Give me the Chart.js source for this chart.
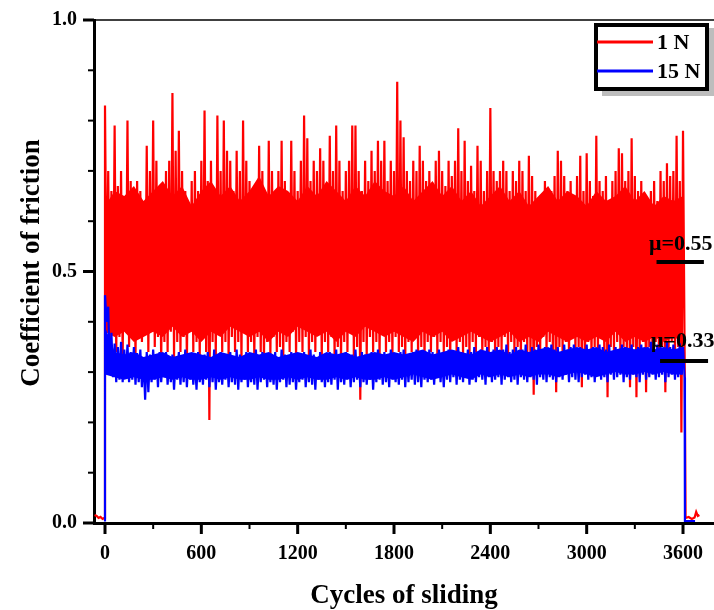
<!DOCTYPE html>
<html>
<head>
<meta charset="utf-8">
<script src="https://cdn.jsdelivr.net/npm/chart.js@4/dist/chart.umd.min.js"></script>
<style>
  html, body { margin: 0; padding: 0; background: #fff; }
  #wrap { width: 714px; height: 610px; }
</style>
</head>
<body>
<div id="wrap"><canvas id="cofChart" width="714" height="610"></canvas></div>
<script>
// sampled every 20 cycles from 0 to 3600: peak / trough of each oscillation
const cycleStep = 20;

const redHigh = [
  0.83,0.70,0.66,0.79,0.67,0.70,0.64,0.80,0.68,0.62,
  0.68,0.66,0.62,0.75,0.70,0.80,0.72,0.66,0.64,0.70,
  0.72,0.855,0.74,0.78,0.70,0.66,0.62,0.68,0.70,0.66,
  0.72,0.82,0.68,0.72,0.66,0.81,0.70,0.80,0.74,0.72,
  0.66,0.74,0.70,0.80,0.72,0.68,0.62,0.66,0.75,0.70,
  0.64,0.76,0.70,0.66,0.70,0.76,0.68,0.64,0.76,0.70,
  0.66,0.72,0.81,0.765,0.68,0.72,0.70,0.745,0.72,0.66,
  0.77,0.70,0.79,0.72,0.66,0.70,0.72,0.79,0.79,0.70,
  0.66,0.72,0.68,0.74,0.70,0.76,0.72,0.76,0.68,0.72,
  0.70,0.877,0.80,0.767,0.70,0.68,0.72,0.70,0.75,0.72,
  0.68,0.70,0.66,0.72,0.74,0.70,0.67,0.72,0.69,0.72,
  0.785,0.70,0.76,0.68,0.71,0.66,0.75,0.72,0.66,0.70,
  0.825,0.70,0.68,0.70,0.72,0.70,0.66,0.70,0.68,0.72,
  0.70,0.66,0.73,0.69,0.66,0.62,0.64,0.68,0.64,0.66,
  0.69,0.74,0.72,0.69,0.66,0.68,0.64,0.69,0.73,0.66,
  0.735,0.68,0.65,0.77,0.68,0.66,0.69,0.64,0.68,0.70,
  0.745,0.735,0.68,0.70,0.765,0.69,0.66,0.68,0.64,0.60,
  0.66,0.68,0.64,0.70,0.68,0.715,0.69,0.70,0.77,0.68,
  0.78
];
const redLow = [
  0.42,0.36,0.38,0.34,0.37,0.33,0.39,0.35,0.38,0.33,
  0.40,0.36,0.38,0.34,0.39,0.35,0.37,0.32,0.36,0.34,
  0.38,0.33,0.36,0.34,0.37,0.32,0.38,0.34,0.36,0.33,
  0.37,0.34,0.205,0.36,0.33,0.38,0.34,0.36,0.32,0.37,
  0.34,0.36,0.32,0.38,0.34,0.36,0.33,0.37,0.34,0.32,
  0.36,0.33,0.37,0.34,0.35,0.32,0.36,0.34,0.38,0.33,
  0.36,0.34,0.37,0.33,0.36,0.34,0.38,0.32,0.36,0.34,
  0.37,0.33,0.35,0.32,0.36,0.34,0.38,0.33,0.35,0.245,
  0.36,0.33,0.37,0.34,0.36,0.32,0.38,0.34,0.36,0.33,
  0.37,0.34,0.35,0.32,0.36,0.34,0.37,0.33,0.35,0.32,
  0.36,0.34,0.37,0.33,0.36,0.34,0.35,0.32,0.37,0.34,
  0.36,0.33,0.35,0.32,0.36,0.34,0.37,0.33,0.35,0.34,
  0.36,0.32,0.35,0.34,0.37,0.33,0.36,0.34,0.35,0.32,
  0.36,0.34,0.33,0.255,0.35,0.33,0.37,0.34,0.36,0.32,
  0.26,0.35,0.34,0.36,0.33,0.37,0.34,0.35,0.27,0.34,
  0.36,0.33,0.35,0.34,0.37,0.33,0.25,0.35,0.34,0.36,
  0.33,0.35,0.34,0.27,0.35,0.25,0.34,0.36,0.26,0.35,
  0.33,0.36,0.34,0.35,0.26,0.34,0.36,0.33,0.35,0.18,
  0.34
];
const blueHigh = [
  0.453,0.43,0.378,0.357,0.35,0.36,0.345,0.355,0.34,0.35,
  0.338,0.345,0.33,0.34,0.335,0.345,0.33,0.34,0.325,0.34,
  0.33,0.335,0.325,0.34,0.33,0.345,0.33,0.335,0.325,0.34,
  0.33,0.335,0.34,0.33,0.345,0.33,0.34,0.325,0.335,0.34,
  0.33,0.345,0.335,0.33,0.34,0.325,0.335,0.345,0.33,0.34,
  0.33,0.335,0.325,0.34,0.33,0.345,0.335,0.33,0.34,0.33,
  0.325,0.335,0.34,0.33,0.345,0.335,0.33,0.34,0.325,0.335,
  0.34,0.33,0.345,0.335,0.33,0.34,0.33,0.335,0.345,0.33,
  0.34,0.335,0.325,0.34,0.33,0.345,0.335,0.34,0.33,0.345,
  0.335,0.33,0.34,0.345,0.335,0.33,0.34,0.345,0.335,0.34,
  0.33,0.345,0.34,0.335,0.345,0.33,0.34,0.345,0.335,0.34,
  0.35,0.34,0.335,0.345,0.34,0.35,0.335,0.345,0.34,0.35,
  0.34,0.345,0.35,0.34,0.345,0.355,0.34,0.345,0.35,0.34,
  0.345,0.355,0.34,0.35,0.345,0.355,0.34,0.35,0.345,0.355,
  0.345,0.35,0.34,0.355,0.345,0.35,0.355,0.34,0.35,0.345,
  0.355,0.345,0.35,0.34,0.355,0.35,0.345,0.355,0.34,0.35,
  0.345,0.355,0.35,0.34,0.355,0.345,0.35,0.355,0.345,0.35,
  0.36,0.345,0.355,0.35,0.345,0.36,0.35,0.355,0.345,0.357,
  0.35
];
const blueLow = [
  0.40,0.30,0.29,0.28,0.285,0.28,0.29,0.28,0.285,0.275,
  0.28,0.27,0.245,0.26,0.28,0.285,0.27,0.28,0.29,0.275,
  0.28,0.265,0.285,0.275,0.28,0.27,0.285,0.275,0.265,0.28,
  0.275,0.285,0.27,0.28,0.265,0.28,0.275,0.285,0.27,0.28,
  0.275,0.265,0.28,0.285,0.27,0.28,0.275,0.265,0.28,0.285,
  0.27,0.28,0.275,0.265,0.28,0.285,0.27,0.275,0.28,0.265,
  0.28,0.285,0.27,0.28,0.275,0.265,0.285,0.28,0.27,0.28,
  0.275,0.285,0.265,0.28,0.275,0.285,0.27,0.28,0.285,0.27,
  0.28,0.275,0.285,0.265,0.28,0.285,0.275,0.28,0.27,0.285,
  0.28,0.275,0.285,0.27,0.28,0.285,0.275,0.28,0.27,0.285,
  0.28,0.285,0.275,0.29,0.28,0.27,0.285,0.28,0.29,0.275,
  0.285,0.28,0.29,0.275,0.285,0.28,0.29,0.285,0.275,0.29,
  0.28,0.285,0.29,0.275,0.285,0.29,0.28,0.285,0.275,0.29,
  0.285,0.28,0.29,0.285,0.275,0.29,0.285,0.28,0.29,0.285,
  0.28,0.29,0.285,0.295,0.28,0.29,0.285,0.28,0.29,0.295,
  0.285,0.29,0.28,0.295,0.285,0.29,0.28,0.295,0.285,0.29,
  0.295,0.28,0.29,0.285,0.295,0.29,0.28,0.295,0.285,0.29,
  0.295,0.285,0.29,0.295,0.28,0.29,0.295,0.285,0.29,0.295,
  0.29
];

// solid core of each trace (where the oscillation covers everything), every 60 cycles
const bandStep = 60;
const redCoreTop = [
  0.63,0.66,0.65,0.67,0.64,0.66,0.68,0.65,0.67,0.63,
  0.66,0.68,0.65,0.67,0.64,0.66,0.69,0.65,0.67,0.66,
  0.64,0.67,0.65,0.68,0.66,0.64,0.67,0.65,0.68,0.66,
  0.65,0.67,0.64,0.66,0.68,0.65,0.67,0.64,0.66,0.63,
  0.65,0.67,0.64,0.66,0.63,0.65,0.67,0.64,0.66,0.65,
  0.63,0.66,0.64,0.65,0.67,0.64,0.66,0.63,0.65,0.64,
  0.65
];
const redCoreBottom = [
  0.38,0.37,0.38,0.36,0.37,0.38,0.37,0.39,0.37,0.38,
  0.36,0.38,0.37,0.39,0.38,0.37,0.38,0.36,0.38,0.37,
  0.39,0.38,0.37,0.38,0.36,0.38,0.37,0.39,0.38,0.37,
  0.38,0.37,0.36,0.38,0.37,0.38,0.36,0.37,0.38,0.37,
  0.36,0.37,0.38,0.36,0.37,0.36,0.38,0.37,0.36,0.37,
  0.36,0.37,0.36,0.38,0.36,0.37,0.36,0.37,0.36,0.37,
  0.36
];
const blueCoreTop = [
  0.39,0.34,0.335,0.34,0.33,0.335,0.34,0.33,0.335,0.34,
  0.335,0.33,0.34,0.335,0.33,0.34,0.335,0.34,0.33,0.335,
  0.34,0.335,0.33,0.34,0.335,0.34,0.33,0.335,0.34,0.335,
  0.34,0.335,0.34,0.345,0.335,0.34,0.345,0.34,0.335,0.345,
  0.34,0.345,0.335,0.345,0.34,0.345,0.35,0.34,0.345,0.35,
  0.345,0.35,0.34,0.345,0.35,0.345,0.35,0.345,0.35,0.345,
  0.35
];
const blueCoreBottom = [
  0.295,0.29,0.285,0.29,0.285,0.285,0.29,0.285,0.29,0.285,
  0.285,0.29,0.285,0.29,0.285,0.285,0.29,0.285,0.285,0.29,
  0.285,0.29,0.285,0.285,0.29,0.285,0.29,0.285,0.285,0.29,
  0.285,0.29,0.295,0.29,0.285,0.29,0.295,0.29,0.285,0.295,
  0.29,0.295,0.29,0.295,0.29,0.295,0.295,0.29,0.295,0.30,
  0.295,0.29,0.295,0.30,0.295,0.295,0.30,0.295,0.30,0.295,
  0.295
];

// before the test starts and after it ends
const redLeadCycles = [-65, -52, -40, -28, -15, -4];
const redLeadValues = [0.016, 0.014, 0.010, 0.012, 0.008, 0.010];
const redTailCycles = [3616, 3635, 3655, 3672, 3682, 3692, 3702];
const redTailValues = [0.010, 0.012, 0.008, 0.011, 0.022, 0.014, 0.016];
const blueLeadCycles = [0];
const blueLeadValues = [0.003];
const blueTailCycles = [3612, 3675];
const blueTailValues = [0.004, 0.004];

const seriesNames = ['1 N', '15 N'];
const seriesColors = ['#ff0000', '#0000ff'];
const meanLabels = ['\u03bc=0.55', '\u03bc=0.33'];

const xTickValues = [0,300,600,900,1200,1500,1800,2100,2400,2700,3000,3300,3600];
const xTickLabels = ['0','','600','','1200','','1800','','2400','','3000','','3600'];
const yTickValues = [0,0.1,0.2,0.3,0.4,0.5,0.6,0.7,0.8,0.9,1.0];
const yTickLabels = ['0.0','','','','','0.5','','','','','1.0'];

const serif = '"Liberation Serif", "Times New Roman", serif';

function buildSeries(leadX, leadY, high, low, tailX, tailY) {
    let pts = [];
    leadX.forEach((x, i) => pts.push({x: x, y: leadY[i]}));
    high.forEach((h, i) => {
        pts.push({x: i * cycleStep, y: h});
        pts.push({x: i * cycleStep + cycleStep / 2, y: low[i]});
    });
    tailX.forEach((x, i) => pts.push({x: x, y: tailY[i]}));
    return pts;
}

function buildCore(values) {
    return values.map((v, i) => ({x: i * bandStep, y: v}));
}

// mean value marks, placed in data units
const meanMarks = [
    {text: meanLabels[0], tx: 3388, ty: 0.543, x0: 3435, x1: 3730, y: 0.519},
    {text: meanLabels[1], tx: 3400, ty: 0.350, x0: 3457, x1: 3756, y: 0.322}
];

const originFrame = {
    id: 'originFrame',
    afterDraw(chart) {
        const ctx = chart.ctx;
        const area = chart.chartArea;
        const xs = chart.scales.x;
        const ys = chart.scales.y;
        ctx.save();
        ctx.strokeStyle = '#000';

        // top frame line
        ctx.lineWidth = 1.5;
        ctx.beginPath();
        ctx.moveTo(area.left, area.top);
        ctx.lineTo(area.right, area.top);
        ctx.stroke();

        // tick marks: long for labelled ticks, short for the others
        yTickValues.forEach((v, i) => {
            let major = yTickLabels[i] !== '';
            let py = ys.getPixelForValue(v);
            ctx.lineWidth = major ? 3 : 2;
            ctx.beginPath();
            ctx.moveTo(area.left - (major ? 11 : 6), py);
            ctx.lineTo(area.left, py);
            ctx.stroke();
        });
        xTickValues.forEach((v, i) => {
            let major = xTickLabels[i] !== '';
            let px = xs.getPixelForValue(v);
            ctx.lineWidth = major ? 3 : 2;
            ctx.beginPath();
            ctx.moveTo(px, area.bottom);
            ctx.lineTo(px, area.bottom + (major ? 11 : 6));
            ctx.stroke();
        });

        // mean markers
        ctx.fillStyle = '#000';
        ctx.font = 'bold 22px ' + serif;
        ctx.textAlign = 'left';
        ctx.textBaseline = 'alphabetic';
        meanMarks.forEach(m => {
            ctx.fillText(m.text, xs.getPixelForValue(m.tx), ys.getPixelForValue(m.ty));
            ctx.lineWidth = 4;
            ctx.beginPath();
            ctx.moveTo(xs.getPixelForValue(m.x0), ys.getPixelForValue(m.y));
            ctx.lineTo(xs.getPixelForValue(m.x1), ys.getPixelForValue(m.y));
            ctx.stroke();
        });

        // legend box with drop shadow
        const bx = 594, by = 23, bw = 115, bh = 68;
        ctx.fillStyle = '#bdbdbd';
        ctx.fillRect(bx + 8, by + 5, bw, bh);
        ctx.fillStyle = '#fff';
        ctx.fillRect(bx, by, bw, bh);
        ctx.lineWidth = 4;
        ctx.strokeRect(bx + 2, by + 2, bw - 4, bh - 4);
        seriesNames.forEach((name, i) => {
            let ly = by + 19 + i * 29;
            ctx.strokeStyle = seriesColors[i];
            ctx.lineWidth = 3;
            ctx.beginPath();
            ctx.moveTo(bx + 3, ly);
            ctx.lineTo(bx + 59, ly);
            ctx.stroke();
            ctx.fillStyle = '#000';
            ctx.textBaseline = 'middle';
            ctx.fillText(name, bx + 63, ly + 1);
        });

        // axis titles
        ctx.fillStyle = '#000';
        ctx.font = 'bold 27px ' + serif;
        ctx.textAlign = 'center';
        ctx.textBaseline = 'alphabetic';
        ctx.fillText('Cycles of sliding', (area.left + area.right) / 2, 603);
        ctx.translate(39, 263);
        ctx.rotate(-Math.PI / 2);
        ctx.fillText('Coefficient of friction', 0, 0);
        ctx.restore();
    }
};

const tickFont = {family: serif, size: 20, weight: 'bold'};

const lineDefaults = {pointRadius: 0, borderWidth: 2.2, fill: false};

new Chart(document.getElementById('cofChart').getContext('2d'), {
    type: 'line',
    data: {
        datasets: [
            Object.assign({
                label: seriesNames[0],
                data: buildSeries(redLeadCycles, redLeadValues, redHigh, redLow, redTailCycles, redTailValues),
                borderColor: seriesColors[0],
                order: 3
            }, lineDefaults),
            Object.assign({
                label: seriesNames[1],
                data: buildSeries(blueLeadCycles, blueLeadValues, blueHigh, blueLow, blueTailCycles, blueTailValues),
                borderColor: seriesColors[1],
                order: 1
            }, lineDefaults),
            {
                label: 'red core',
                data: buildCore(redCoreTop),
                borderWidth: 0,
                pointRadius: 0,
                backgroundColor: seriesColors[0],
                fill: '+1',
                order: 4
            },
            {
                label: 'red core bottom',
                data: buildCore(redCoreBottom),
                borderWidth: 0,
                pointRadius: 0,
                fill: false,
                order: 4
            },
            {
                label: 'blue core',
                data: buildCore(blueCoreTop),
                borderWidth: 0,
                pointRadius: 0,
                backgroundColor: seriesColors[1],
                fill: '+1',
                order: 2
            },
            {
                label: 'blue core bottom',
                data: buildCore(blueCoreBottom),
                borderWidth: 0,
                pointRadius: 0,
                fill: false,
                order: 2
            }
        ]
    },
    options: {
        responsive: false,
        animation: false,
        layout: {padding: {top: 20, right: 0, bottom: 0, left: 0}},
        elements: {line: {tension: 0}},
        plugins: {
            legend: {display: false},
            tooltip: {enabled: false}
        },
        scales: {
            x: {
                type: 'linear',
                min: -68.5,
                max: 3793,
                afterBuildTicks: scale => { scale.ticks = xTickValues.map(v => ({value: v})); },
                afterFit: scale => {
                    scale.height = 87;
                    scale.paddingLeft = 0;
                    scale.paddingRight = 0;
                },
                grid: {display: false, drawTicks: false},
                border: {display: true, color: '#000', width: 3},
                ticks: {
                    autoSkip: false,
                    maxRotation: 0,
                    padding: 19,
                    color: '#000',
                    font: tickFont,
                    callback: (value, index) => xTickLabels[index]
                }
            },
            y: {
                type: 'linear',
                min: 0,
                max: 1,
                afterBuildTicks: scale => { scale.ticks = yTickValues.map(v => ({value: v})); },
                afterFit: scale => {
                    scale.width = 94;
                    scale.paddingTop = 0;
                    scale.paddingBottom = 0;
                },
                grid: {display: false, drawTicks: false},
                border: {display: true, color: '#000', width: 3},
                ticks: {
                    autoSkip: false,
                    padding: 17,
                    color: '#000',
                    font: tickFont,
                    callback: (value, index) => yTickLabels[index]
                }
            }
        }
    },
    plugins: [originFrame]
});
</script>
</body>
</html>
